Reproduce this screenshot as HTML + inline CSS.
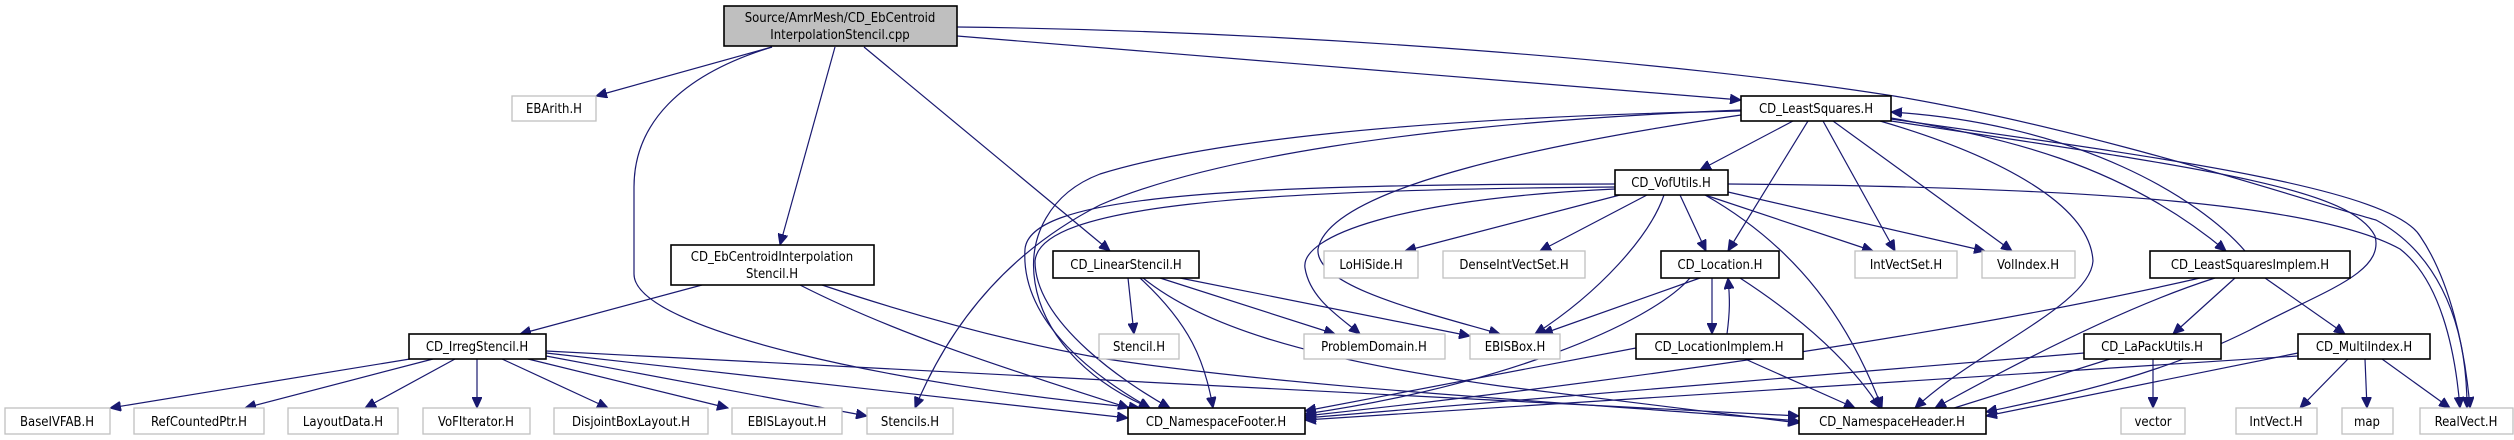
<!DOCTYPE html>
<html><head><meta charset="utf-8"><style>
html,body{margin:0;padding:0;background:#fff;}
svg{display:block;}
text{font-family:"DejaVu Sans Condensed","DejaVu Sans","Liberation Sans",sans-serif;font-size:13px;fill:#000;text-anchor:middle;font-stretch:condensed;}
.e{fill:none;stroke:#191970;stroke-width:1.2;marker-end:url(#a);}
.b{fill:#fff;stroke:#000;stroke-width:1.6;}
.g{fill:#fff;stroke:#c0c0c0;stroke-width:1.3;}
</style></head><body>
<svg width="2514" height="440" viewBox="0 0 2514 440" xmlns="http://www.w3.org/2000/svg">
<defs><marker id="a" markerUnits="userSpaceOnUse" markerWidth="12" markerHeight="10" refX="11" refY="5" orient="auto"><path d="M0,0 L11,5 L0,10 z" fill="#191970" stroke="#191970"/></marker></defs>

<path class="e" d="M772,47 L596,96"/>
<path class="e" d="M772,47 C680,75 634,124 634,187 L634,274 C634,330 900,386 1140,408"/>
<path class="e" d="M835,47 L780,245"/>
<path class="e" d="M864,47 L1110,251"/>
<path class="e" d="M957,36 L1741,100"/>
<path class="e" d="M957,27 C1300,31 1680,62 1894,96 C2100,131 2300,199 2376,220 C2430,249 2467,311 2467,408"/>

<path class="e" d="M702,285 L520,334"/>
<path class="e" d="M800,285 C900,336 1020,373 1129,408"/>
<path class="e" d="M822,285 C900,311 1000,340 1100,358 C1300,389 1600,404 1799,421"/>

<path class="e" d="M410,359 L110,408"/>
<path class="e" d="M433,359 L245,408"/>
<path class="e" d="M455,359 L365,408"/>
<path class="e" d="M477,359 L477,408"/>
<path class="e" d="M502,359 L608,408"/>
<path class="e" d="M528,359 L728,408"/>
<path class="e" d="M546,356 L867,416"/>
<path class="e" d="M546,353 L1128,418"/>
<path class="e" d="M546,351 L1799,416"/>

<path class="e" d="M1128,278 L1134,334"/>
<path class="e" d="M1140,278 C1190,324 1205,361 1213,408"/>
<path class="e" d="M1160,278 L1335,334"/>
<path class="e" d="M1180,278 L1470,336"/>
<path class="e" d="M1143,278 C1200,324 1300,358 1500,386 C1650,404 1750,417 1799,423"/>

<path class="e" d="M1620,195 L1405,251"/>
<path class="e" d="M1647,195 L1540,251"/>
<path class="e" d="M1664,195 C1650,236 1600,292 1535,334"/>
<path class="e" d="M1680,195 L1706,251"/>
<path class="e" d="M1705,195 L1873,251"/>
<path class="e" d="M1728,192 L1985,251"/>
<path class="e" d="M1705,195 C1800,249 1850,324 1882,408"/>
<path class="e" d="M1615,184 C1200,184 1030,199 1025,249 C1020,324 1100,380 1150,408"/>
<path class="e" d="M1615,187 C1250,190 1040,205 1035,261 C1035,324 1130,386 1170,408"/>
<path class="e" d="M1615,189 C1400,199 1300,236 1305,268 C1310,299 1340,317 1360,334"/>
<path class="e" d="M1728,184 C2100,187 2320,205 2400,249 C2440,280 2455,348 2460,408"/>

<path class="e" d="M1793,121 L1700,170"/>
<path class="e" d="M1808,121 L1728,251"/>
<path class="e" d="M1823,121 L1895,251"/>
<path class="e" d="M1833,121 L2012,251"/>
<path class="e" d="M1880,121 C2000,156 2090,205 2093,261 C2090,305 1980,348 1915,408"/>
<path class="e" d="M1891,118 C2000,137 2120,162 2226,251"/>
<path class="e" d="M2245,251 C2200,199 2080,124 1891,112"/>
<path class="e" d="M1741,115 C1550,143 1330,187 1318,249 C1315,286 1420,311 1500,334"/>
<path class="e" d="M1741,110 C1400,124 1200,162 1100,205 C990,261 940,348 915,408"/>
<path class="e" d="M1741,111 C1400,118 1200,143 1100,174 C1000,212 1010,348 1150,408"/>
<path class="e" d="M1891,121 C2200,168 2350,187 2375,236 C2385,274 2320,292 2250,330 C2150,380 2050,398 1986,412"/>
<path class="e" d="M1891,119 C2150,156 2390,187 2420,236 C2450,280 2465,348 2470,408"/>

<path class="e" d="M1712,278 L1712,334"/>
<path class="e" d="M1727,334 C1730,311 1730,299 1728,278"/>
<path class="e" d="M1700,278 L1542,334"/>
<path class="e" d="M1690,278 C1650,324 1500,386 1305,414"/>
<path class="e" d="M1740,278 C1800,317 1850,361 1880,408"/>

<path class="e" d="M1636,348 L1305,411"/>
<path class="e" d="M1745,359 L1855,408"/>

<path class="e" d="M2235,278 L2173,334"/>
<path class="e" d="M2265,278 L2345,334"/>
<path class="e" d="M2215,278 C2130,305 2020,361 1935,408"/>
<path class="e" d="M2200,278 C2000,324 1700,373 1305,416"/>

<path class="e" d="M2153,359 L2153,408"/>
<path class="e" d="M2110,359 L1935,414"/>
<path class="e" d="M2084,353 L1305,418"/>

<path class="e" d="M2348,359 L2300,408"/>
<path class="e" d="M2365,359 L2367,408"/>
<path class="e" d="M2382,359 L2450,408"/>
<path class="e" d="M2298,353 L1986,416"/>
<path class="e" d="M2298,356 L1305,420"/>

<rect x="724" y="6" width="233" height="40" fill="#bfbfbf" stroke="#000" stroke-width="1.6"/>
<text x="840" y="22">Source/AmrMesh/CD_EbCentroid</text>
<text x="840" y="39">InterpolationStencil.cpp</text>

<rect class="g" x="512" y="96" width="84" height="25"/><text x="554" y="113">EBArith.H</text>

<rect class="b" x="671" y="245" width="203" height="40"/>
<text x="772" y="261">CD_EbCentroidInterpolation</text>
<text x="772" y="278">Stencil.H</text>

<rect class="b" x="409" y="334" width="137" height="25"/><text x="477" y="351">CD_IrregStencil.H</text>

<rect class="g" x="5" y="408" width="105" height="26"/><text x="57" y="426">BaseIVFAB.H</text>
<rect class="g" x="134" y="408" width="130" height="26"/><text x="199" y="426">RefCountedPtr.H</text>
<rect class="g" x="288" y="408" width="110" height="26"/><text x="343" y="426">LayoutData.H</text>
<rect class="g" x="423" y="408" width="107" height="26"/><text x="476" y="426">VoFIterator.H</text>
<rect class="g" x="554" y="408" width="154" height="26"/><text x="631" y="426">DisjointBoxLayout.H</text>
<rect class="g" x="732" y="408" width="110" height="26"/><text x="787" y="426">EBISLayout.H</text>
<rect class="g" x="867" y="408" width="86" height="26"/><text x="910" y="426">Stencils.H</text>
<rect class="b" x="1128" y="408" width="177" height="26"/><text x="1216" y="426">CD_NamespaceFooter.H</text>

<rect class="b" x="1053" y="251" width="146" height="27"/><text x="1126" y="269">CD_LinearStencil.H</text>
<rect class="g" x="1099" y="334" width="80" height="25"/><text x="1139" y="351">Stencil.H</text>
<rect class="g" x="1304" y="334" width="141" height="25"/><text x="1374" y="351">ProblemDomain.H</text>
<rect class="g" x="1470" y="334" width="90" height="25"/><text x="1515" y="351">EBISBox.H</text>
<rect class="g" x="1324" y="251" width="94" height="27"/><text x="1371" y="269">LoHiSide.H</text>
<rect class="g" x="1443" y="251" width="142" height="27"/><text x="1514" y="269">DenseIntVectSet.H</text>

<rect class="b" x="1615" y="170" width="113" height="25"/><text x="1671" y="187">CD_VofUtils.H</text>
<rect class="b" x="1661" y="251" width="118" height="27"/><text x="1720" y="269">CD_Location.H</text>
<rect class="b" x="1636" y="334" width="167" height="25"/><text x="1719" y="351">CD_LocationImplem.H</text>

<rect class="b" x="1741" y="96" width="150" height="25"/><text x="1816" y="113">CD_LeastSquares.H</text>
<rect class="g" x="1855" y="251" width="102" height="27"/><text x="1906" y="269">IntVectSet.H</text>
<rect class="g" x="1982" y="251" width="93" height="27"/><text x="2028" y="269">VolIndex.H</text>
<rect class="b" x="2150" y="251" width="200" height="27"/><text x="2250" y="269">CD_LeastSquaresImplem.H</text>
<rect class="b" x="2084" y="334" width="137" height="25"/><text x="2152" y="351">CD_LaPackUtils.H</text>
<rect class="b" x="2298" y="334" width="132" height="25"/><text x="2364" y="351">CD_MultiIndex.H</text>
<rect class="b" x="1799" y="408" width="187" height="26"/><text x="1892" y="426">CD_NamespaceHeader.H</text>
<rect class="g" x="2121" y="408" width="64" height="26"/><text x="2153" y="426">vector</text>
<rect class="g" x="2236" y="408" width="81" height="26"/><text x="2276" y="426">IntVect.H</text>
<rect class="g" x="2342" y="408" width="51" height="26"/><text x="2367" y="426">map</text>
<rect class="g" x="2420" y="408" width="93" height="26"/><text x="2466" y="426">RealVect.H</text>
</svg>
</body></html>
